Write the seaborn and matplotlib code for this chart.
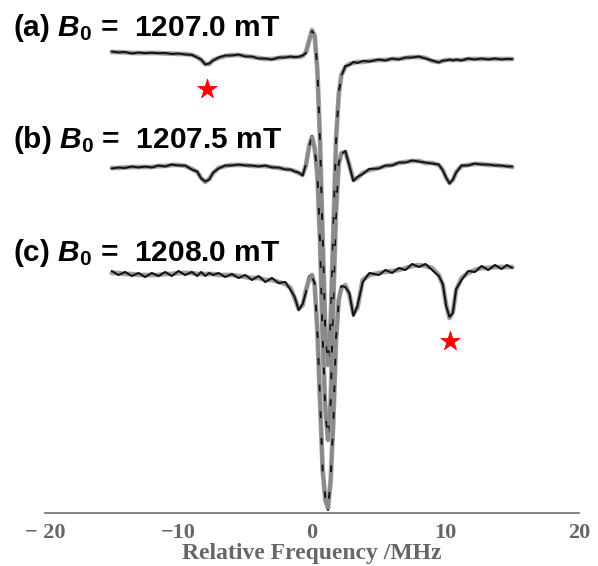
import matplotlib
matplotlib.use("Agg")
import matplotlib.pyplot as plt
import pandas as pd
import seaborn as sns
from matplotlib.ticker import MultipleLocator

# relative frequency grid (MHz), shared by the three spectra
freq = [-15, -14.5, -14, -13.5, -13, -12.5, -12, -11.5, -11, -10.5, -10, -9.5, -9,
        -8.6, -8.3, -8.0, -7.7, -7.4,
        -7.0, -6.5, -6, -5.5, -5, -4.5, -4, -3.5, -3, -2.5, -2, -1.6, -1.3, -1.0, -0.7,
        -0.45, -0.2, 0.0, 0.2,
        0.4, 0.6, 0.8, 1.0, 1.2, 1.4, 1.6, 1.8, 2.0, 2.2,
        2.5, 2.8, 3.1, 3.4, 3.8, 4.3,
        5, 5.5, 6, 6.5, 7, 7.5, 8, 8.5, 9, 9.5,
        9.8, 10.05, 10.3, 10.55, 10.8,
        11.2, 11.7, 12.2, 12.7, 13.2, 13.7, 14.2, 14.6, 15]

# (a) B0 = 1207.0 mT
fit_a = [0.04, 0.04, 0.035, 0.03, 0.03, 0.03, 0.03, 0.03, 0.025, 0.025, 0.02, 0.02, 0.01,
         -0.01, -0.04, -0.08, -0.08, -0.04,
         -0.02, 0.0, 0.01, 0.01, 0.0, -0.01, -0.02, -0.03, -0.03, -0.02, -0.01, -0.01, -0.01, -0.01, 0.0,
         0.04, 0.16, 0.26, 0.20,
         -0.14, -0.84, -1.84, -2.74, -3.09, -2.64, -1.74, -0.84, -0.39, -0.19,
         -0.11, -0.08, -0.07, -0.06, -0.06, -0.05,
         -0.04, -0.04, -0.03, -0.03, -0.02, -0.01, -0.01, -0.02, -0.05, -0.06,
         -0.05, -0.04, -0.04, -0.04, -0.04,
         -0.04, -0.03, -0.03, -0.03, -0.03, -0.03, -0.03, -0.03, -0.03]
data_a = [0.045, 0.035, 0.04, 0.025, 0.035, 0.028, 0.033, 0.027, 0.03, 0.02, 0.025, 0.015, 0.012,
          -0.015, -0.035, -0.085, -0.075, -0.045,
          -0.015, 0.005, 0.005, 0.015, -0.005, -0.005, -0.025, -0.025, -0.035, -0.015, -0.015, -0.005, -0.012, -0.008, 0.005,
          0.03, 0.17, 0.25, 0.21,
          -0.12, -0.86, -1.82, -2.76, -3.07, -2.66, -1.72, -0.86, -0.37, -0.20,
          -0.10, -0.09, -0.06, -0.07, -0.05, -0.055,
          -0.035, -0.045, -0.025, -0.035, -0.015, -0.015, -0.005, -0.025, -0.045, -0.065,
          -0.045, -0.045, -0.035, -0.045, -0.035,
          -0.045, -0.025, -0.035, -0.025, -0.035, -0.025, -0.035, -0.028, -0.032]

# (b) B0 = 1207.5 mT
fit_b = [-0.01, -0.01, -0.005, 0.0, 0.0, 0.0, 0.0, 0.01, 0.01, 0.02, 0.02, 0.01, -0.02,
         -0.05, -0.11, -0.15, -0.12, -0.06,
         -0.01, 0.01, 0.02, 0.02, 0.02, 0.01, 0.01, 0.01, 0.0, -0.01, -0.02, -0.03, -0.04, -0.06, -0.08,
         0.02, 0.22, 0.30, 0.19,
         -0.08, -0.73, -1.73, -2.43, -2.73, -2.33, -1.33, -0.43, 0.02, 0.14,
         0.15, 0.02, -0.13, -0.11, -0.06, -0.03,
         -0.01, 0.01, 0.02, 0.04, 0.05, 0.06, 0.06, 0.04, 0.04, 0.02,
         -0.03, -0.11, -0.16, -0.13, -0.05,
         0.01, 0.02, 0.03, 0.03, 0.02, 0.02, 0.01, 0.01, 0.0]
data_b = [-0.015, -0.005, -0.01, 0.005, -0.005, 0.005, -0.005, 0.015, 0.005, 0.025, 0.015, 0.015, -0.025,
          -0.045, -0.115, -0.145, -0.125, -0.055,
          -0.015, 0.015, 0.015, 0.025, 0.015, 0.015, 0.005, 0.015, -0.005, -0.005, -0.025, -0.025, -0.045, -0.055, -0.085,
          0.03, 0.21, 0.31, 0.18,
          -0.06, -0.75, -1.71, -2.45, -2.71, -2.35, -1.31, -0.45, 0.04, 0.13,
          0.16, 0.01, -0.14, -0.10, -0.07, -0.02,
          -0.015, 0.015, 0.015, 0.045, 0.045, 0.065, 0.055, 0.045, 0.035, 0.025,
          -0.035, -0.105, -0.165, -0.125, -0.055,
          0.015, 0.015, 0.035, 0.025, 0.025, 0.015, 0.015, 0.005, 0.005]

# (c) B0 = 1208.0 mT
fit_c = [-0.03, -0.03, -0.04, -0.04, -0.05, -0.05, -0.05, -0.05, -0.04, -0.04, -0.03, -0.03, -0.03,
         -0.04, -0.04, -0.04, -0.04, -0.04,
         -0.05, -0.05, -0.05, -0.06, -0.07, -0.08, -0.08, -0.10, -0.10, -0.12, -0.14, -0.18, -0.28, -0.39, -0.35,
         -0.20, -0.08, -0.05, -0.15,
         -0.60, -1.30, -2.00, -2.30, -2.38, -2.10, -1.50, -0.70, -0.30, -0.18,
         -0.15, -0.25, -0.44, -0.38, -0.10, -0.05,
         -0.03, -0.02, -0.01, 0.0, 0.02, 0.04, 0.05, 0.04, 0.02, -0.05,
         -0.15, -0.35, -0.48, -0.42, -0.20,
         -0.08, -0.03, 0.0, 0.02, 0.02, 0.03, 0.03, 0.03, 0.03]
data_c = [-0.01, -0.05, -0.02, -0.06, -0.03, -0.07, -0.03, -0.06, -0.02, -0.06, -0.01, -0.05, -0.02,
          -0.06, -0.02, -0.06, -0.03, -0.05,
          -0.03, -0.07, -0.04, -0.08, -0.05, -0.10, -0.06, -0.12, -0.08, -0.13, -0.12, -0.20, -0.27, -0.40, -0.34,
          -0.22, -0.06, -0.07, -0.13,
          -0.62, -1.28, -2.02, -2.28, -2.40, -2.08, -1.52, -0.68, -0.32, -0.16,
          -0.17, -0.23, -0.46, -0.36, -0.12, -0.03,
          -0.05, 0.0, -0.03, 0.02, 0.0, 0.06, 0.03, 0.06, 0.0, -0.06,
          -0.14, -0.36, -0.47, -0.43, -0.19,
          -0.10, -0.01, -0.02, 0.04, 0.0, 0.05, 0.01, 0.05, 0.02]

panel_tags = ["(a)", "(b)", "(c)"]
fields_mT = ["1207.0", "1207.5", "1208.0"]
offsets = [0.0, -1.11, -2.14]

# red stars marking the weak lines
star_freq = [-7.9, 10.3]
star_panel = [0, 2]
star_depth = [-0.33, -0.71]

fits = [fit_a, fit_b, fit_c]
datas = [data_a, data_b, data_c]

rows = []
for i in range(3):
    for f, yf, yd in zip(freq, fits[i], datas[i]):
        rows.append({"freq": f, "signal": yf + offsets[i], "panel": i, "kind": "fit"})
        rows.append({"freq": f, "signal": yd + offsets[i], "panel": i, "kind": "data"})
df = pd.DataFrame(rows)
fit_df = df[df["kind"] == "fit"]
centre = fit_df[(fit_df["freq"] >= -0.45) & (fit_df["freq"] <= 2.2)]

stars = pd.DataFrame({
    "freq": star_freq,
    "signal": [offsets[p] + d for p, d in zip(star_panel, star_depth)],
})

sns.set_style("white")
plt.rcParams["mathtext.fontset"] = "custom"
plt.rcParams["mathtext.rm"] = "Liberation Sans:bold"
plt.rcParams["mathtext.it"] = "Liberation Sans:italic:bold"

fig = plt.figure(figsize=(5.98, 5.66), dpi=100)
ax = fig.add_axes([45 / 598, 53 / 566, 534 / 598, 513 / 566])

# grey fit under the black measured trace, fit repeated on top in the strong central line
sns.lineplot(data=fit_df, x="freq", y="signal", units="panel",
             estimator=None, sort=False, color="#a2a2a2", linewidth=3.4, ax=ax)
sns.lineplot(data=df[df["kind"] == "data"], x="freq", y="signal", units="panel",
             estimator=None, sort=False, color="#141414", linewidth=1.5, ax=ax)
n_before = len(ax.lines)
sns.lineplot(data=centre, x="freq", y="signal", units="panel",
             estimator=None, sort=False, color="#8a8a8a", linewidth=2.4, ax=ax)
for ln in ax.lines[n_before:]:
    ln.set_dashes([6, 2])
sns.scatterplot(data=stars, x="freq", y="signal", marker="*", s=220, color="red",
                edgecolor="red", linewidth=0.5, ax=ax, zorder=5)

ax.set_xlim(-20, 20)
ax.set_ylim(-4.57, 0.56)
ax.xaxis.set_major_locator(MultipleLocator(10))
ax.xaxis.set_minor_locator(MultipleLocator(2))
ax.set_yticks([])
ax.set_ylabel("")
for side in ["top", "left", "right"]:
    ax.spines[side].set_visible(False)
ax.spines["bottom"].set_color("#7a7a7a")
ax.spines["bottom"].set_linewidth(1.3)
ax.tick_params(axis="x", which="major", direction="in", length=4, width=1.2,
               color="#7a7a7a", pad=7, labelsize=16, labelcolor="#666666")
ax.tick_params(axis="x", which="minor", direction="in", length=2.5, width=1.0,
               color="#7a7a7a")
ax.set_xticks([-20, -10, 0, 10, 20])
ax.set_xticklabels(["\u2212 20", "\u221210", "0", "10", "20"],
                   family="Liberation Serif", fontweight="bold")
ax.set_xlabel("Relative Frequency /MHz", family="Liberation Serif", fontweight="bold",
              fontsize=17, color="#666666", labelpad=0)

label_y = [1 - 36 / 566, 1 - 148 / 566, 1 - 261 / 566]
for tag, field, yy in zip(panel_tags, fields_mT, label_y):
    fig.text(13 / 598, yy, tag + r" $B_0$ =  " + field + " mT", family="Liberation Sans",
             fontweight="bold", fontsize=21.5, color="black", va="baseline", ha="left")

fig.savefig("out.png", dpi=100)
